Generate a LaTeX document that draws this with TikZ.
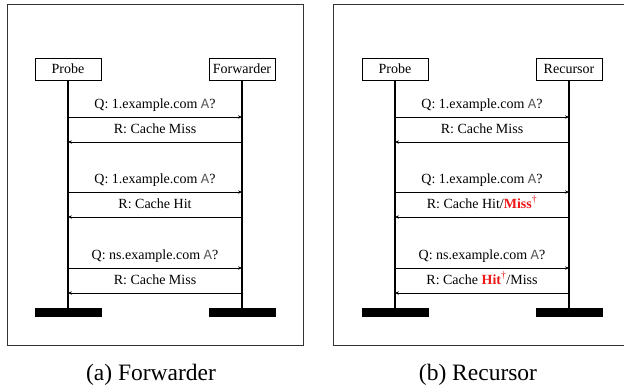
\documentclass[tikz,border=0pt]{standalone}
\usepackage{fontspec}
\setmainfont{Liberation Serif}
\setmonofont{Liberation Mono}
\usetikzlibrary{arrows.meta,positioning}
\definecolor{HitClr}{rgb}{0.93,0.1,0.1}
\newcommand{\qtype}{\textcolor{black!65}{\texttt{A}}}
\newcommand{\hl}[1]{\textcolor{HitClr}{\textbf{#1}\textsuperscript{\dag}}}

\begin{document}
\begin{tikzpicture}[x=1pt,y=-1pt,
  actor/.style={draw,line width=.9pt,minimum width=66pt,minimum height=22pt,inner sep=3pt,font=\fontsize{14}{16}\selectfont},
  bar/.style={fill=black,minimum width=67pt,minimum height=9pt,inner sep=0pt},
  life/.style={line width=1.4pt},
  msg/.style={line width=.7pt,-{Stealth[length=4pt,width=3.4pt]}},
  lbl/.style={anchor=base,yshift=9pt,inner sep=0pt,font=\fontsize{14}{16}\selectfont},
  panel/.style={draw=black!80,line width=1pt},
  subcap/.style={font=\fontsize{23.5}{26}\selectfont}]

\useasboundingbox (0,0) rectangle (624,389);

% (a) forwarder
\draw[panel] (7,4) rectangle (303,345);
\node[actor] (pa) at (68,69) {Probe};
\node[actor] (fw) at (242,69) {Forwarder};
\node[bar] (pabar) at (68,312.5) {};
\node[bar] (fwbar) at (242,312.5) {};
\draw[life] (pa.south) -- (pabar.north);
\draw[life] (fw.south) -- (fwbar.north);

\foreach \y/\q/\r in {117/{Q: 1.example.com \qtype?}/{R: Cache Miss},
                      192/{Q: 1.example.com \qtype?}/{R: Cache Hit},
                      268/{Q: ns.example.com \qtype?}/{R: Cache Miss}}{
  \draw[msg] (pa |- 0,\y) -- node[lbl]{\q} (fw |- 0,\y);
  \draw[msg] (fw |- 0,\y+25) -- node[lbl]{\r} (pa |- 0,\y+25);
}
\node[subcap] (capa) at (151,375) {(a) Forwarder};

% (b) recursor
\draw[panel] (333,4) rectangle (630,345);
\node[actor] (pb) at (395,69) {Probe};
\node[actor] (rc) at (569,69) {Recursor};
\node[bar] (pbbar) at (395,312.5) {};
\node[bar] (rcbar) at (569,312.5) {};
\draw[life] (pb.south) -- (pbbar.north);
\draw[life] (rc.south) -- (rcbar.north);

\foreach \y/\q/\r in {117/{Q: 1.example.com \qtype?}/{R: Cache Miss},
                      192/{Q: 1.example.com \qtype?}/{R: Cache Hit/\hl{Miss}},
                      268/{Q: ns.example.com \qtype?}/{R: Cache \hl{Hit}/Miss}}{
  \draw[msg] (pb |- 0,\y) -- node[lbl]{\q} (rc |- 0,\y);
  \draw[msg] (rc |- 0,\y+25) -- node[lbl]{\r} (pb |- 0,\y+25);
}
\node[subcap] (capb) at (478,375) {(b) Recursor};

\end{tikzpicture}
\end{document}
